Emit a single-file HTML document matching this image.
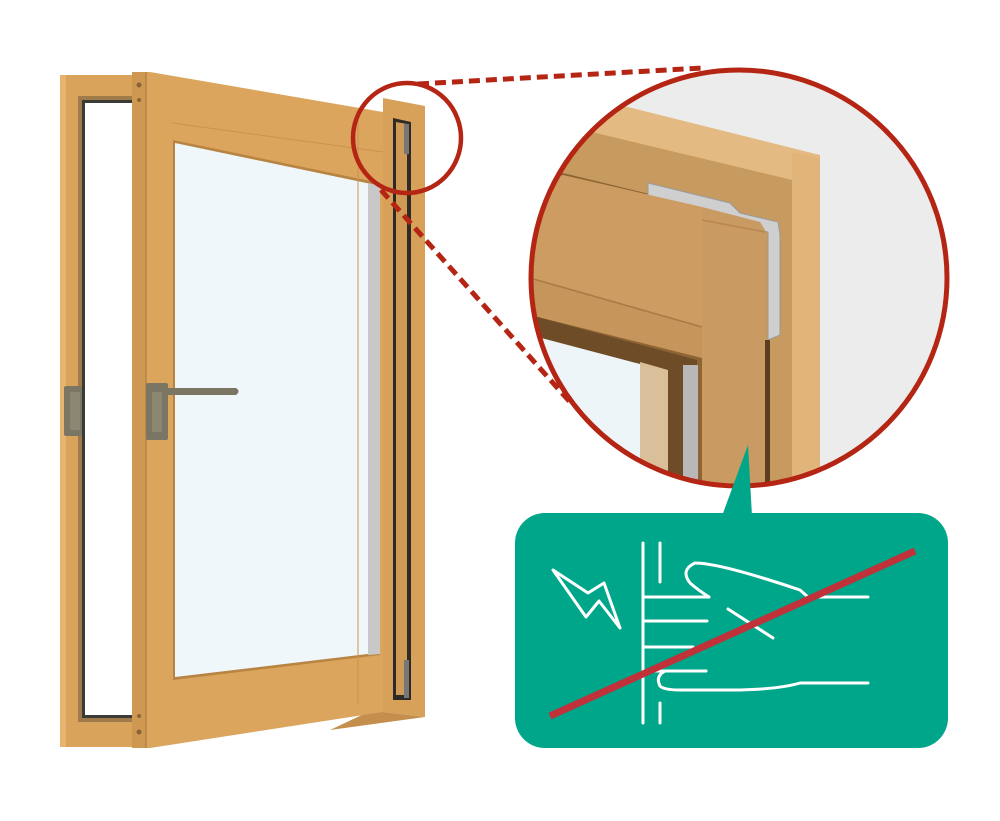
<!DOCTYPE html>
<html><head><meta charset="utf-8"><style>html,body{margin:0;padding:0;background:#fff}svg{display:block}</style></head>
<body>
<svg width="1000" height="821" viewBox="0 0 1000 821" xmlns="http://www.w3.org/2000/svg">
<defs>
<clipPath id="bc"><circle cx="739" cy="278" r="208"/></clipPath>
</defs>
<!-- left fixed frame -->
<rect x="60" y="75" width="74" height="672" fill="#d9a35c"/>
<rect x="60" y="75" width="6" height="672" fill="#e6b46e"/>
<rect x="78" y="96" width="56" height="626" fill="#a07a48"/>
<rect x="82" y="100" width="52" height="618" fill="#3a3a36"/>
<rect x="85" y="103" width="49" height="612" fill="#ffffff"/>
<!-- left latch -->
<rect x="64" y="386" width="18" height="50" rx="2" fill="#7b7663"/>
<rect x="70" y="392" width="10" height="38" fill="#8c8772"/>
<!-- right fixed frame -->
<polygon points="383,98 425,106 425,717 383,712" fill="#d8a15a"/>
<polygon points="393,118 411,122 411,700 393,700" fill="#2e2a25"/>
<polygon points="396,122 407,124 407,695 396,695" fill="#cf9a55"/>
<rect x="404" y="124" width="5" height="30" fill="#777"/>
<rect x="404" y="660" width="5" height="38" fill="#777"/>
<polygon points="383,712 425,717 330,730 383,705" fill="#c48e4c"/>
<!-- sash -->
<polygon points="132,72 150,72 383,112 383,712 150,748 132,748" fill="#dba55e"/>
<polygon points="132,72 146,72 146,748 132,748" fill="#cf9852"/>
<line x1="146" y1="72" x2="146" y2="748" stroke="#b88442" stroke-width="1.5"/>
<circle cx="139" cy="85" r="2.5" fill="#8a6335"/><circle cx="139" cy="100" r="2" fill="#8a6335"/>
<circle cx="139" cy="732" r="2.5" fill="#8a6335"/><circle cx="139" cy="716" r="2" fill="#8a6335"/>
<polygon points="173,140 380,183 380,655 173,680" fill="#b88442"/>
<polygon points="175,143 376,185 376,653 175,677" fill="#f0f7fb"/>
<polygon points="368,183 380,186 380,654 368,655" fill="#c8c8c8"/>
<line x1="172" y1="123" x2="383" y2="152" stroke="#c99450" stroke-width="1"/>
<line x1="358" y1="120" x2="358" y2="705" stroke="#c99450" stroke-width="1"/>
<!-- handle -->
<rect x="146" y="383" width="22" height="57" rx="2" fill="#7b7663"/>
<path d="M166,388 L236,388 Q241,391 236,395 L168,395 Z" fill="#7b7663"/>
<rect x="152" y="392" width="10" height="40" fill="#8c8772"/>
<!-- small circle -->
<ellipse cx="407" cy="138" rx="54" ry="55" fill="none" stroke="#b52514" stroke-width="4.5"/>
<!-- dotted lines -->
<line x1="418" y1="84" x2="702" y2="68" stroke="#b52514" stroke-width="5" stroke-dasharray="11,6"/>
<line x1="381" y1="190" x2="570" y2="402" stroke="#b52514" stroke-width="5" stroke-dasharray="11,6"/>
<!-- big circle -->
<circle cx="739" cy="278" r="208" fill="#ececec"/>
<g clip-path="url(#bc)">
<polygon points="530,150 600,100 820,155 820,490 530,490" fill="#e3bb82"/>
<polygon points="530,175 575,128 792,180 792,490 530,490" fill="#c79a60"/>
<polygon points="792,152 820,158 820,490 792,490" fill="#e1b579"/>
<polygon points="530,185 563,173 765,222 765,490 530,490" fill="#8d6434"/>
<!-- hinge -->
<polygon points="648,183 730,203 740,213 778,222 780,235 780,335 768,340 768,232 700,218 648,196" fill="#cfcfcf" stroke="#9a9a9a" stroke-width="1"/>
<!-- sash top rail -->
<polygon points="530,185 563,175 702,207 702,327 530,278" fill="#cc9c62"/>
<polygon points="530,278 702,327 702,358 530,315" fill="#c6955b"/>
<line x1="530" y1="278" x2="702" y2="327" stroke="#a87a44" stroke-width="1.5"/>
<!-- glass -->
<polygon points="530,315 697,360 697,490 530,490" fill="#6e4c28"/>
<polygon points="530,335 640,364 640,490 530,490" fill="#eef5f8"/>
<polygon points="640,362 668,370 668,490 640,490" fill="#d9c09a"/>
<rect x="683" y="365" width="15" height="125" fill="#b8b8b8"/>
<!-- stile -->
<polygon points="702,207 760,222 765,230 765,490 702,490" fill="#c99a62"/>
<line x1="702" y1="220" x2="765" y2="232" stroke="#b7874f" stroke-width="1.5"/>
<rect x="765" y="340" width="5" height="150" fill="#5a3e20"/>
</g>
<circle cx="739" cy="278" r="208" fill="none" stroke="#b52514" stroke-width="5"/>
<!-- green box -->
<rect x="515" y="513" width="433" height="235" rx="30" fill="#00a68a"/>
<polygon points="722,516 748,445 752,516" fill="#00a68a"/>
<g fill="none" stroke="#ffffff" stroke-width="3" stroke-linecap="round" stroke-linejoin="round">
<line x1="643" y1="543" x2="643" y2="723"/>
<line x1="660" y1="543" x2="660" y2="582"/>
<line x1="660" y1="703" x2="660" y2="723"/>
<polygon points="553,570 588,593 604,583 620,628 599,601 586,617"/>
<line x1="643" y1="597" x2="709" y2="597"/>
<line x1="643" y1="621" x2="707" y2="621"/>
<line x1="643" y1="647" x2="693" y2="647"/>
<line x1="643" y1="671" x2="706" y2="671"/>
<path d="M709,597 Q698,590 690,583 Q680,570 695,563 Q720,563 800,590 L808,597 L868,597"/>
<path d="M706,671 L665,671 Q655,676 660,686 Q664,690 680,690 L740,690 Q780,689 800,683 L868,683"/>
<line x1="728" y1="609" x2="773" y2="638"/>
</g>
<line x1="550" y1="716" x2="915" y2="551" stroke="#c0313a" stroke-width="7"/>
</svg>
</body></html>
